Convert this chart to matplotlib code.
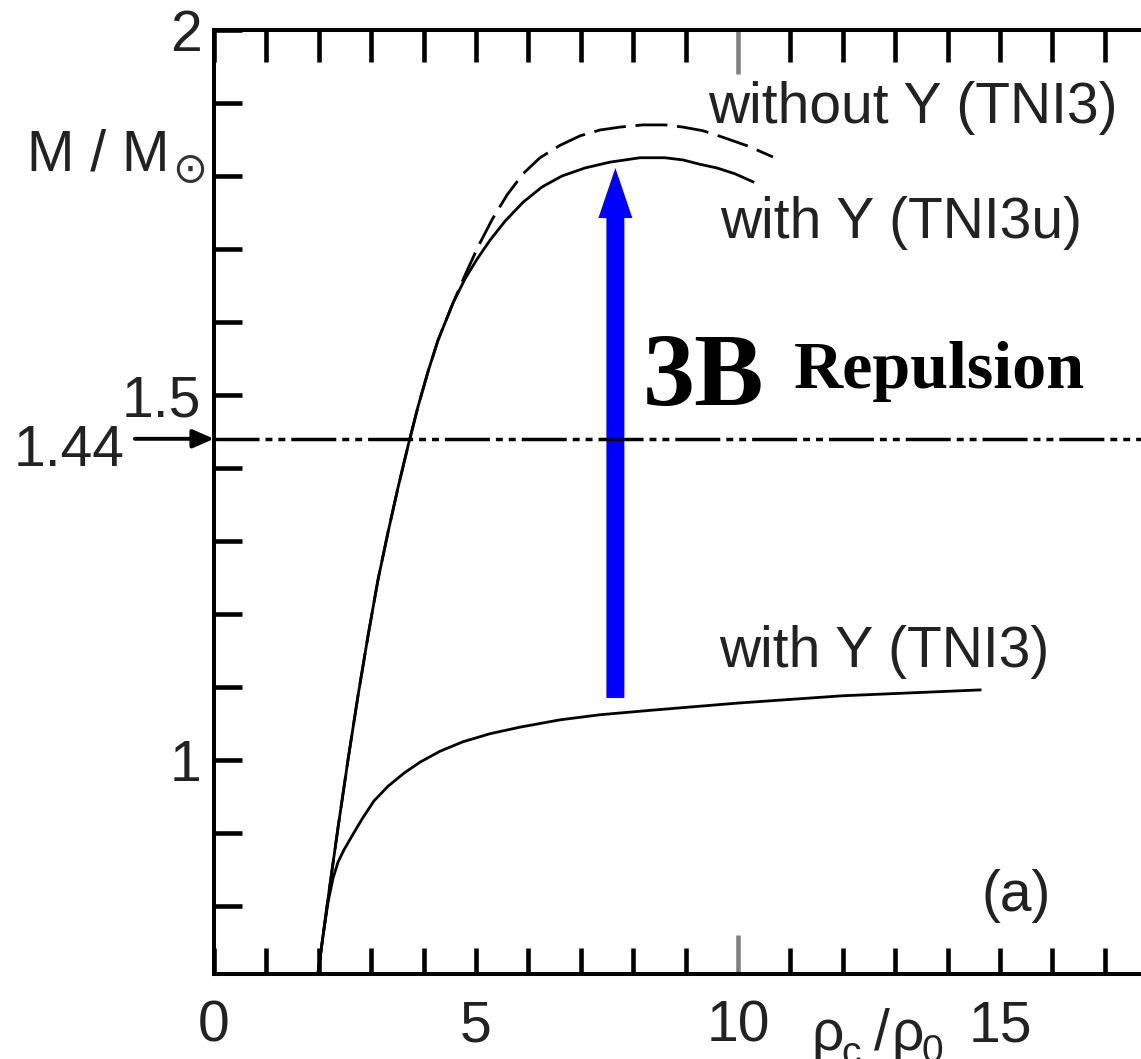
import matplotlib
matplotlib.use("Agg")
import matplotlib.pyplot as plt
from matplotlib.ticker import FixedLocator, MultipleLocator

plt.rcParams["font.family"] = ["Liberation Sans", "DejaVu Sans"]
plt.rcParams["lines.scale_dashes"] = False

# ---- data: stellar mass vs central density ----
# with hyperons, TNI3u three-body force
rho_tni3u = [1.985, 2.176, 2.366, 2.557, 2.748, 2.939, 3.130, 3.321, 3.511, 3.702,
             3.893, 4.084, 4.275, 4.561, 4.790, 5.019, 5.267, 5.553, 5.897, 6.260,
             6.641, 7.080, 7.557, 8.130, 8.607, 8.950, 9.275, 9.599, 9.943, 10.286]
m_tni3u = [0.708, 0.810, 0.907, 1.000, 1.088, 1.170, 1.247, 1.312, 1.373, 1.430,
           1.484, 1.532, 1.575, 1.626, 1.659, 1.686, 1.712, 1.738, 1.764, 1.785,
           1.800, 1.811, 1.819, 1.825, 1.825, 1.822, 1.816, 1.811, 1.803, 1.792]

# without hyperons, TNI3
rho_noY = [1.985, 2.176, 2.366, 2.557, 2.748, 2.939, 3.130, 3.321, 3.511, 3.702,
           3.893, 4.084, 4.275, 4.561, 4.790, 5.038, 5.305, 5.592, 5.897, 6.221,
           6.603, 6.985, 7.366, 7.748, 8.187, 8.607, 8.950, 9.332, 9.714, 10.191,
           10.668]
m_noY = [0.708, 0.810, 0.907, 1.000, 1.088, 1.170, 1.247, 1.312, 1.373, 1.430,
         1.484, 1.532, 1.575, 1.626, 1.664, 1.703, 1.740, 1.774, 1.803, 1.825,
         1.842, 1.855, 1.863, 1.867, 1.870, 1.870, 1.867, 1.862, 1.853, 1.841,
         1.826]

# with hyperons, TNI3
rho_tni3 = [1.985, 2.080, 2.176, 2.271, 2.366, 2.481, 2.634, 2.824, 3.053, 3.321,
            3.626, 3.931, 4.313, 4.752, 5.267, 5.840, 6.603, 7.366, 8.321, 10.0,
            12.0, 14.62]
m_tni3 = [0.708, 0.759, 0.805, 0.838, 0.860, 0.877, 0.896, 0.919, 0.944, 0.964,
          0.982, 0.997, 1.012, 1.025, 1.036, 1.045, 1.055, 1.062, 1.068, 1.078,
          1.088, 1.096]

m_canonical = 1.44
arrow_rho = 7.66
arrow_from, arrow_to = 1.085, 1.811

x_major = [0, 5, 10, 15]
x_major_labels = ["0", "5", "10", "15"]
y_major = [1.0, 1.5, 2.0]
y_major_labels = ["1", "1.5", "2"]

# ---- figure ----
W, H = 1141, 1059
fig = plt.figure(figsize=(W / 100, H / 100), dpi=100)
x0_px, x_scale = 214.0, 52.4
top_px, bot_px = 30.0, 974.0
xmax = 17.75
ax = fig.add_axes([x0_px / W, 1 - bot_px / H,
                   xmax * x_scale / W, (bot_px - top_px) / H])
ax.set_xlim(0, xmax)
ax.set_ylim(2 - (bot_px - top_px) / 730.0, 2.0)

txt_color = "#222222"
fs = 41

ax.plot(rho_tni3u, m_tni3u, color="black", lw=2.0, solid_joinstyle="round")
ax.plot(rho_noY, m_noY, color="black", lw=2.0, dashes=(23, 7))
ax.plot(rho_tni3, m_tni3, color="black", lw=2.0, solid_joinstyle="round")

# canonical mass line
ax.axhline(m_canonical, color="black", lw=2.5,
           dashes=(32.4, 4.3, 5.0, 4.3, 5.0, 4.3))

# three-body repulsion arrow
ax.arrow(arrow_rho, arrow_from, 0, arrow_to - arrow_from, width=0.343,
         head_width=0.648, head_length=0.0685, length_includes_head=True,
         color="#0000ff", lw=0)

# ---- spines and ticks ----
for side in ("left", "top", "bottom", "right"):
    ax.spines[side].set_linewidth(2.9)

ax.xaxis.set_major_locator(FixedLocator(x_major))
ax.xaxis.set_minor_locator(MultipleLocator(1))
ax.set_xticklabels(x_major_labels)
ax.yaxis.set_major_locator(FixedLocator(y_major))
ax.yaxis.set_minor_locator(MultipleLocator(0.1))
ax.set_yticklabels(y_major_labels)

ax.tick_params(axis="both", which="both", direction="in", width=3.3,
               color="black", labelsize=fs, labelcolor=txt_color)
ax.tick_params(axis="x", which="both", top=True, bottom=True, pad=18)
ax.tick_params(axis="y", which="both", left=True, right=False, length=20, pad=9)

bottom_len, top_len = 19, 23
for t in ax.xaxis.get_major_ticks() + ax.xaxis.get_minor_ticks():
    t.tick1line.set_markersize(bottom_len)
    t.tick2line.set_markersize(top_len)
ten = ax.xaxis.get_major_ticks()[2]
for ln, L in ((ten.tick1line, 28), (ten.tick2line, 32)):
    ln.set_markersize(L)
    ln.set_color("#808080")
    ln.set_markeredgecolor("#808080")

# ---- annotations ----
ax.text(9.43, 1.873, "without Y (TNI3)", fontsize=fs, color=txt_color, va="baseline")
ax.text(9.66, 1.715, "with Y (TNI3u)", fontsize=fs, color=txt_color, va="baseline")
ax.text(9.64, 1.127, "with Y (TNI3)", fontsize=fs, color=txt_color, va="baseline")
ax.text(14.65, 0.793, "(a)", fontsize=fs, color=txt_color, va="baseline")

ax.text(8.18, 1.486, "3B", fontsize=75, fontweight="bold",
        family="Liberation Serif", color="black", va="baseline")
ax.text(11.07, 1.510, "Repulsion", fontsize=49, fontweight="bold",
        family="Liberation Serif", color="black", va="baseline")

# 1.44 marker left of the axis
ax.text(-1.70, 1.403, "1.44", fontsize=fs, color=txt_color, ha="right",
        va="baseline", clip_on=False)
ax.annotate("", xy=(0, m_canonical), xytext=(-1.51, m_canonical),
            arrowprops=dict(arrowstyle="-|>,head_length=0.8,head_width=0.35",
                            lw=2.8, color="black", shrinkA=0, shrinkB=0,
                            mutation_scale=16),
            annotation_clip=False)

# y-axis label M / M_sun
ax.text(-3.57, 1.808, "M / M", fontsize=fs, color=txt_color, va="baseline",
        clip_on=False)
ax.text(-0.46, 1.808, "\u2299", fontsize=30, family="DejaVu Sans",
        color="#333333", ha="center", va="center", clip_on=False)

# x-axis label rho_c / rho_0
ax.text(11.40, 0.603, "\u03c1", fontsize=fs, color=txt_color, va="baseline", clip_on=False)
ax.text(11.97, 0.584, "c", fontsize=28, color=txt_color, va="baseline", clip_on=False)
ax.text(12.60, 0.603, "/", fontsize=fs, color=txt_color, va="baseline", clip_on=False)
ax.text(12.92, 0.603, "\u03c1", fontsize=fs, color=txt_color, va="baseline", clip_on=False)
ax.text(13.51, 0.586, "0", fontsize=28, color=txt_color, va="baseline", clip_on=False)

fig.savefig("out.png", dpi=100, facecolor="white")
